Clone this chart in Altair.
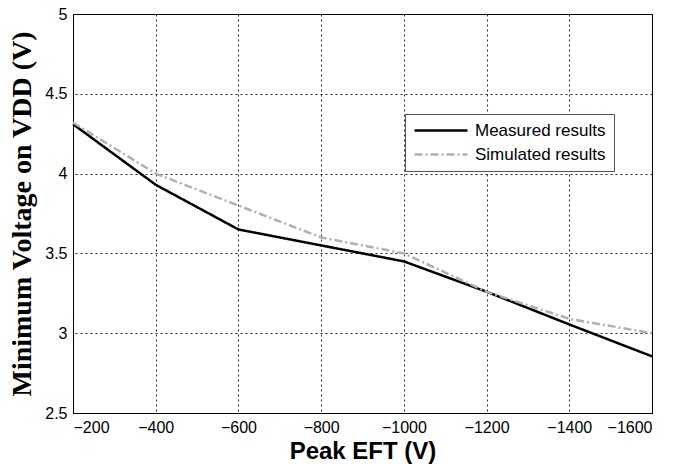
import altair as alt
import pandas as pd

peak_eft = [-200, -400, -600, -800, -1000, -1200, -1400, -1600]
measured = [4.31, 3.93, 3.65, 3.55, 3.45, 3.26, 3.055, 2.855]
simulated = [4.32, 4.00, 3.80, 3.60, 3.50, 3.26, 3.09, 3.00]
series_names = ["Measured results", "Simulated results"]
x_ticks = [-200, -400, -600, -800, -1000, -1200, -1400, -1600]
y_ticks = [2.5, 3, 3.5, 4, 4.5, 5]

rows = []
for name, vals in zip(series_names, [measured, simulated]):
    for x, y in zip(peak_eft, vals):
        rows.append({"x": x, "y": y, "series": name})
df = pd.DataFrame(rows)

legend_kw = dict(title=None, orient="none", legendX=332, legendY=100,
                 symbolType="stroke", symbolSize=2809, symbolStrokeWidth=2.5,
                 clipHeight=17,
                 labelFont="Liberation Sans", labelFontSize=17,
                 labelColor="#000000", labelOffset=6,
                 padding=8, rowPadding=6,
                 strokeColor="#555555", fillColor="#ffffff")

chart = alt.Chart(df).mark_line(strokeWidth=2.5).encode(
    x=alt.X("x:Q",
            scale=alt.Scale(domain=[-1600, -200], reverse=True, nice=False),
            axis=alt.Axis(values=x_ticks, title="Peak EFT  (V)", format="d")),
    y=alt.Y("y:Q",
            scale=alt.Scale(domain=[2.5, 5], nice=False),
            axis=alt.Axis(values=y_ticks, title="Minimum Voltage on VDD  (V)", format=".1~f")),
    color=alt.Color("series:N",
                    scale=alt.Scale(domain=series_names, range=["#000000", "#b0b0b0"]),
                    legend=alt.Legend(**legend_kw)),
    strokeDash=alt.StrokeDash("series:N",
                              scale=alt.Scale(domain=series_names, range=[[1, 0], [8, 3, 2, 3]]),
                              legend=alt.Legend(**legend_kw)),
).properties(
    width=579, height=399,
    autosize=alt.AutoSizeParams(type="none"),
    padding={"left": 73, "top": 14, "right": 35, "bottom": 52},
).configure_view(
    stroke="#000000", strokeWidth=1
).configure_axis(
    grid=True, gridColor="#000000", gridDash=[2, 3], gridWidth=1, gridOpacity=0.85,
    domainColor="#000000", domainWidth=1,
    ticks=False,
    labelFont="Liberation Sans", labelFontSize=16, labelColor="#000000",
    labelPadding=6,
).configure_axisX(
    titleFont="Liberation Sans", titleFontSize=24, titleFontWeight="bold",
    titleColor="#000000", titlePadding=4,
).configure_axisY(
    titleFont="Liberation Serif", titleFontSize=28, titleFontWeight="bold",
    titleColor="#000000", titlePadding=8,
)

chart.save("out.html", embed_options={"renderer": "svg", "actions": False})
